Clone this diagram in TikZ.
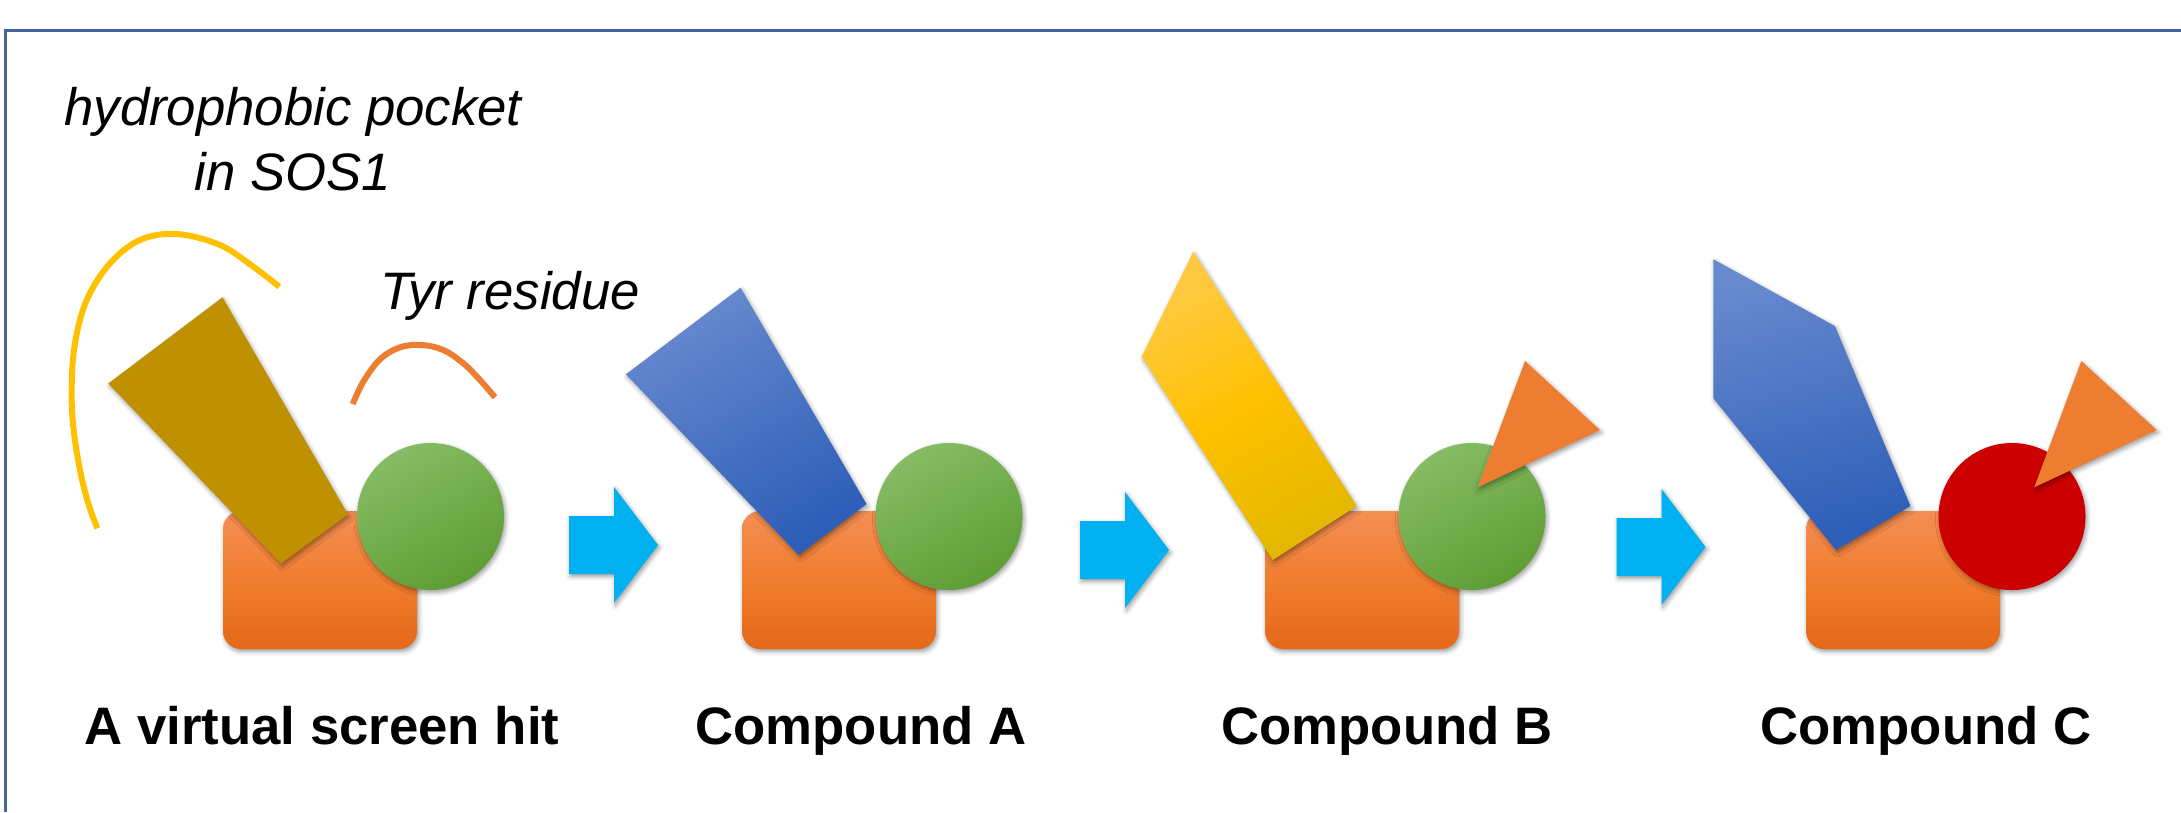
\documentclass[tikz,border=0pt]{standalone}
\usepackage{fontspec}
\setmainfont{Liberation Sans}
\usetikzlibrary{shadows.blur}
\definecolor{framecol}{RGB}{68,100,162}
\definecolor{orTop}{RGB}{244,142,84}
\definecolor{orMid}{RGB}{241,125,46}
\definecolor{orBot}{RGB}{228,104,24}
\definecolor{grLight}{RGB}{134,188,100}
\definecolor{grDark}{RGB}{94,157,52}
\definecolor{blLight}{RGB}{103,137,206}
\definecolor{blDark}{RGB}{45,94,184}
\definecolor{yeLight}{RGB}{255,202,66}
\definecolor{yeMid}{RGB}{255,192,0}
\definecolor{yeDark}{RGB}{228,184,0}
\definecolor{redcol}{RGB}{204,0,0}
\definecolor{trioc}{RGB}{237,125,49}
\definecolor{olive}{RGB}{191,144,0}
\definecolor{arrowblue}{RGB}{0,176,240}
\definecolor{arcyellow}{RGB}{255,192,0}
\definecolor{arcorange}{RGB}{237,125,49}
\tikzset{
  shad/.style={blur shadow={shadow xshift=0.15mm, shadow yshift=-0.25mm, shadow blur radius=0.45mm, shadow opacity=40}},
  basebox/.style={shad, rounded corners=1.8mm, top color=orTop, bottom color=orBot, middle color=orMid},
  greenball/.style={shad, top color=grLight, bottom color=grDark, shading angle=30},
  bluepiece/.style={shad, top color=blLight, bottom color=blDark, shading angle=30},
  yellowpiece/.style={shad, top color=yeLight, bottom color=yeDark, middle color=yeMid, shading angle=30},
  tripiece/.style={shad, fill=trioc},
  arcline/.style={line width=0.6mm},
  lab/.style={font=\fontsize{15}{18}\selectfont\bfseries, anchor=base, inner sep=0pt},
  note/.style={font=\fontsize{15}{18.4}\selectfont\itshape, anchor=base, inner sep=0pt, align=center},
  blockarrow/.pic={\fill[arrowblue, shad] (0,-29) -- (45,-29) -- (45,-58) -- (89,0) -- (45,58) -- (45,29) -- (0,29) -- cycle;}
}
\begin{document}
\begin{tikzpicture}[x=0.1mm,y=-0.1mm]
\useasboundingbox (0,0) rectangle (2181,812);
% frame (right and bottom sides lie outside the picture)
\draw[framecol, line width=0.3mm] (5.5,812) -- (5.5,30) -- (2181,30);

% ---------- virtual screen hit ----------
\draw[arcyellow, arcline] plot[smooth, tension=0.6] coordinates {(279.3,286.7) (253.3,266.7) (220,245) (176.7,234) (140,240) (110,263.3) (86.7,300) (75,343.3) (71.7,386.7) (73.3,426.7) (80,470) (88.3,503.3) (97.3,528.3)};
\draw[arcorange, arcline] plot[smooth, tension=0.6] coordinates {(352.7,404) (363.3,381.7) (380,359.3) (400,347.3) (421.7,345) (443.3,350) (463.3,363.3) (480,380) (495,397.3)};
\shade[basebox] (223,511) rectangle (417,649);
\fill[olive, shad] (222.5,297.3) -- (108.3,383.5) -- (281,563.5) -- (348,514.5) -- cycle;
\shade[greenball] (430.5,516.5) circle[radius=73.5];
\node[note] (pocket) at (293,190.6) {hydrophobic pocket\\in SOS1};
\node[note] (tyr) at (510,309) {Tyr residue};
\node[lab] (hit) at (322,744) {A virtual screen hit};

\pic at (569,545) {blockarrow};

% ---------- Compound A ----------
\shade[basebox] (742,511) rectangle (936,649);
\shade[bluepiece] (740.6,287.7) -- (625.9,374.3) -- (798.7,555) -- (866.5,504) -- cycle;
\shade[greenball] (949,516.5) circle[radius=73.5];
\node[lab] (cA) at (861,744) {Compound A};

\pic at (1080,550) {blockarrow};

% ---------- Compound B ----------
\shade[basebox] (1265,511) rectangle (1459,649);
\shade[yellowpiece] (1193.3,251.7) -- (1141.7,356.7) -- (1272.7,560) -- (1356.7,506) -- cycle;
\shade[greenball] (1472,516.5) circle[radius=73.5];
\fill[tripiece] (1525,361) -- (1600,430) -- (1477.7,487.3) -- cycle;
\node[lab] (cB) at (1387,744) {Compound B};

\pic at (1616.5,547) {blockarrow};

% ---------- Compound C ----------
\shade[basebox] (1806,511) rectangle (2000,649);
\shade[bluepiece, shading angle=15] (1713.4,259.3) -- (1834.9,326) -- (1910.4,506) -- (1836,550) -- (1713.4,398.3) -- cycle;
\fill[redcol, shad] (2012,516.5) circle[radius=73.5];
\fill[tripiece] (2081.3,361) -- (2156.8,430) -- (2034.2,487.3) -- cycle;
\node[lab] (cC) at (1926,744) {Compound C};
\end{tikzpicture}
\end{document}
